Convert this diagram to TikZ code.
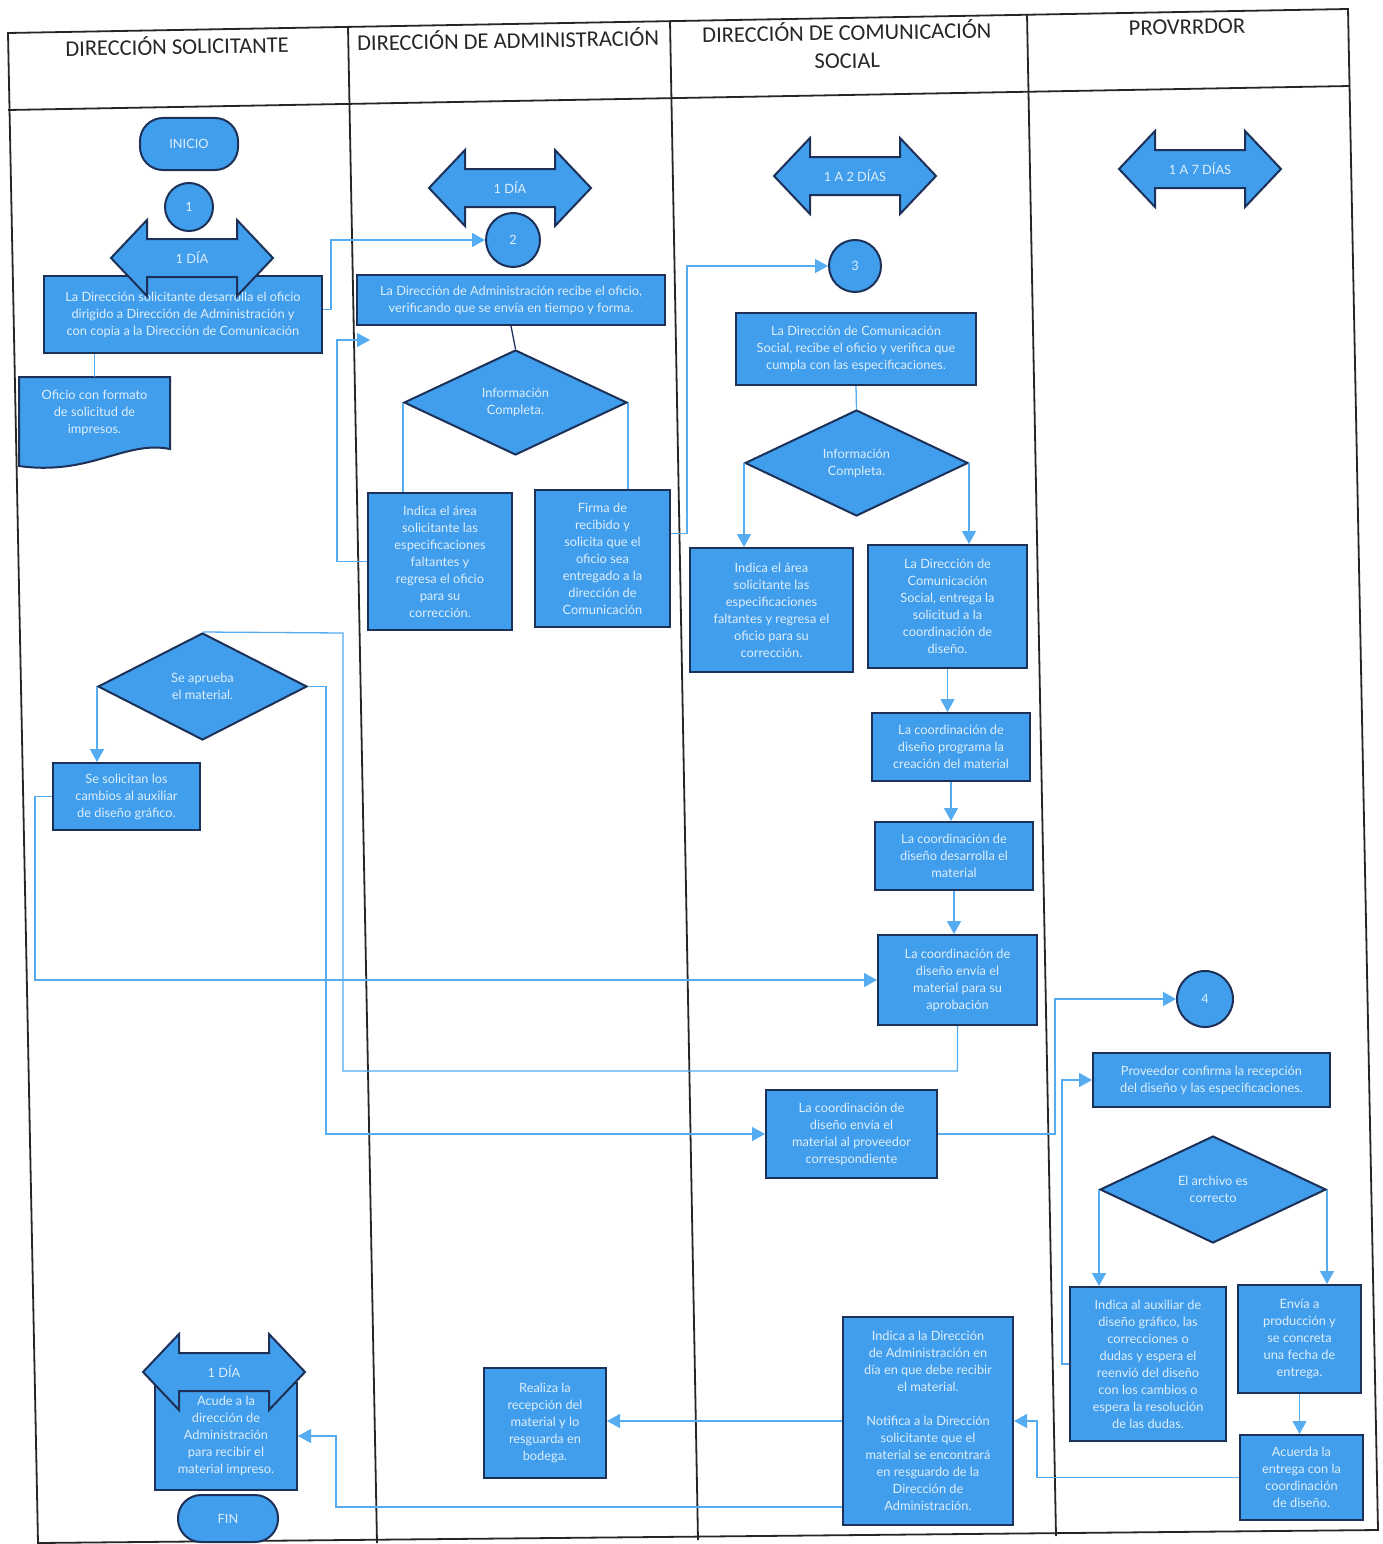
\documentclass[tikz,border=0pt]{standalone}
\usepackage{fontspec}
\setmainfont{Lato}
\newfontfamily\hdrfont{Carlito}
\usetikzlibrary{shapes.geometric,arrows.meta,calc}
\definecolor{boxblue}{RGB}{64,158,236}
\definecolor{navy}{RGB}{28,48,88}
\definecolor{connblue}{RGB}{86,172,240}
\definecolor{txtw}{RGB}{222,238,252}
\tikzset{
 base/.style={draw=navy, line width=2pt, fill=boxblue, text=txtw, font=\fontsize{12.8}{17}\selectfont, align=center, inner sep=1pt},
 proc/.style={base, rectangle},
 dec/.style={base, diamond, inner sep=0pt},
 term/.style={base, rectangle, rounded corners=23pt},
 circ/.style={base, circle},
 ltxt/.style={text=txtw, font=\fontsize{12.8}{17}\selectfont, align=center, inner sep=1pt},
 conn/.style={draw=connblue, line width=1.3pt},
 arr/.style={conn, -{Triangle[length=13pt,width=14pt]}},
 lane/.style={draw=black!85, line width=1.8pt},
 hdr/.style={font=\hdrfont\fontsize{22.5}{28}\selectfont, text=black!85, align=center, rotate=1},
}
\newcommand\pbox[6]{\node[proc, minimum width=#4pt, minimum height=#5pt] (#1) at (#2,#3) {#6};}
\newcommand\dbox[6]{\node[dec, minimum width=#4pt, minimum height=#5pt] (#1) at (#2,#3) {#6};}
\newcommand\dblarr[4]{%
 \draw[draw=navy, line width=2pt, fill=boxblue, line join=miter]
   (#2-81,#3) -- (#2-45,#3-38) -- (#2-45,#3-19) -- (#2+45,#3-19) -- (#2+45,#3-38) -- (#2+81,#3)
   -- (#2+45,#3+38) -- (#2+45,#3+19) -- (#2-45,#3+19) -- (#2-45,#3+38) -- cycle;
 \node[ltxt] (#1) at (#2,#3) {#4};}
\begin{document}
\begin{tikzpicture}[x=1pt,y=-1pt]
\useasboundingbox (0,0) rectangle (1382,1544);
\fill[white] (0,0) rectangle (1382,1544);
% frame
\draw[lane] (8,33) -- (1348,9) -- (1378,1530) -- (38,1543) -- cycle;
\draw[lane] (8,110) -- (1350,86);
\draw[lane] (348,27) -- (377,1543);
\draw[lane] (670,21) -- (698,1540);
\draw[lane] (1027,14) -- (1056,1536);
% headers
\node[hdr] (h1) at (177,45) {DIRECCIÓN SOLICITANTE};
\node[hdr] (h2) at (508,39) {DIRECCIÓN DE ADMINISTRACIÓN};
\node[hdr] (h3) at (847,45) {DIRECCIÓN DE COMUNICACIÓN\\SOCIAL};
\node[hdr] (h4) at (1187,27) {PROVRRDOR};
% lane 1
\node[term, minimum width=98pt, minimum height=52pt] (ini) at (189,144) {INICIO};
\node[circ, minimum size=48pt] (c1) at (189,207) {1};
\pbox{b1}{183}{314.5}{278}{77}{La Dirección solicitante desarrolla el oficio\\dirigido a Dirección de Administración y\\con copia a la Dirección de Comunicación}
\dblarr{da1}{192}{258}{1 DÍA}
\draw[draw=navy, line width=2pt, fill=boxblue] (19,377) -- (170,377) -- (170,449) .. controls (125,440) and (90,476) .. (19,466) -- cycle;
\node[ltxt, minimum width=151pt, minimum height=72pt] (doc) at (94.5,413) {Oficio con formato\\de solicitud de\\impresos.};
\dbox{s1}{202.5}{686.5}{209}{107}{Se aprueba\\el material.}
\pbox{s2}{126.5}{796.5}{147}{67}{Se solicitan los\\cambios al auxiliar\\de diseño gráfico.}
\pbox{e1}{226}{1436}{142}{107}{Acude a la\\dirección de\\Administración\\para recibir el\\material impreso.}
\dblarr{da5}{224}{1372}{1 DÍA}
\node[term, minimum width=100pt, minimum height=47pt] (fin) at (228,1518.5) {FIN};
% lane 2
\dblarr{da2}{510}{188}{1 DÍA}
\node[circ, minimum size=54pt] (c2) at (513,240) {2};
\pbox{a1}{511}{300}{308}{50}{La Dirección de Administración recibe el oficio,\\verificando que se envía en tiempo y forma.}
\dbox{d2}{515.5}{402.5}{223}{105}{Información\\Completa.}
\pbox{a3}{440}{561.5}{144}{137}{Indica el área\\solicitante las\\especificaciones\\faltantes y\\regresa el oficio\\para su\\corrección.}
\pbox{a4}{602.5}{558.5}{135}{137}{Firma de\\recibido y\\solicita que el\\oficio sea\\entregado a la\\dirección de\\Comunicación}
\pbox{r1}{545}{1423}{122}{110}{Realiza la\\recepción del\\material y lo\\resguarda en\\bodega.}
\coordinate (ret1) at (370,340);
% lane 3
\dblarr{da3}{855}{176}{1 A 2 DÍAS}
\node[circ, minimum size=52pt] (c3) at (855,266) {3};
\pbox{m1}{856}{349}{240}{72}{La Dirección de Comunicación\\Social, recibe el oficio y verifica que\\cumpla con las especificaciones.}
\dbox{d3}{856.5}{463}{223}{106}{Información\\Completa.}
\pbox{m2}{771.5}{610}{163}{124}{Indica el área\\solicitante las\\especificaciones\\faltantes y regresa el\\oficio para su\\corrección.}
\pbox{m3}{947.5}{606.5}{159}{123}{La Dirección de\\Comunicación\\Social, entrega la\\solicitud a la\\coordinación de\\diseño.}
\pbox{m4}{951}{747}{158}{68}{La coordinación de\\diseño programa la\\creación del material}
\pbox{m5}{954}{856}{158}{68}{La coordinación de\\diseño desarrolla el\\material}
\pbox{m6}{957.5}{980}{159}{90}{La coordinación de\\diseño envía el\\material para su\\aprobación}
\pbox{m7}{851.5}{1134}{171}{88}{La coordinación de\\diseño envía el\\material al proveedor\\correspondiente}
\pbox{m8}{928}{1421}{170}{208}{Indica a la Dirección\\de Administración en\\día en que debe recibir\\el material.\\[17pt]Notifica a la Dirección\\solicitante que el\\material se encontrará\\en resguardo de la\\Dirección de\\Administración.}
% lane 4
\dblarr{da4}{1200}{169}{1 A 7 DÍAS}
\node[circ, minimum size=56pt] (c4) at (1205,999) {4};
\pbox{p1}{1211.5}{1080}{237}{54}{Proveedor confirma la recepción\\del diseño y las especificaciones.}
\dbox{p2}{1213}{1189.5}{226}{107}{El archivo es\\correcto}
\pbox{p3}{1148}{1364}{156}{154}{Indica al auxiliar de\\diseño gráfico, las\\correcciones o\\dudas y espera el\\reenvió del diseño\\con los cambios o\\espera la resolución\\de las dudas.}
\pbox{p4}{1299.5}{1339}{123}{108}{Envía a\\producción y\\se concreta\\una fecha de\\entrega.}
\pbox{p5}{1301.5}{1477.5}{123}{85}{Acuerda la\\entrega con la\\coordinación\\de diseño.}
% connectors
\draw[arr] ([yshift=5pt]b1.east) -- ++(8,0) |- (c2);
\draw[conn] (doc.north) -- (doc.north |- b1.south);
\draw[arr] (s1.west) -- (s1.west |- s2.north);
\draw[arr] (s1.east) -- ++(18,0) |- (m7.west);
\draw[conn] (m6.south) -- ++(0,45) -| (343,633) -- (s1.north);
\draw[arr] (s2.west) -- ++(-17,0) |- (m6.west);
\draw[draw=navy, line width=1.3pt] (a1.south) -- (d2.north);
\draw[conn] (d2.west) -- (d2.west |- a3.north);
\draw[conn] (d2.east) -- (d2.east |- a4.north);
\draw[arr] (a3.west) -- ++(-30,0) |- (ret1);
\draw[arr] ([yshift=25pt]a4.east) -- ++(16,0) |- (c3);
\draw[conn] (m1.south) -- (d3.north);
\draw[arr] (d3.west) -- (d3.west |- m2.north);
\draw[arr] (d3.east) -- (d3.east |- m3.north);
\draw[arr] (m3.south) -- (m3.south |- m4.north);
\draw[arr] (m4.south) -- (m4.south |- m5.north);
\draw[arr] (m5.south) -- (m5.south |- m6.north);
\draw[arr] (m7.east) -- ++(117,0) |- (c4);
\draw[arr] (p3.west) -- ++(-7,0) |- (p1.west);
\draw[arr] (p2.west) -- (p2.west |- p3.north);
\draw[arr] (p2.east) -- (p2.east |- p4.north);
\draw[arr] (p4.south) -- (p4.south |- p5.north);
\draw[arr] (p5.west) -- ++(-202,0) |- (m8.east);
\draw[arr] (m8.west) -- (m8.west -| r1.east);
\draw[arr] ([yshift=-86pt]m8.west) -- ++(-506,0) |- (e1.east);
\end{tikzpicture}
\end{document}
